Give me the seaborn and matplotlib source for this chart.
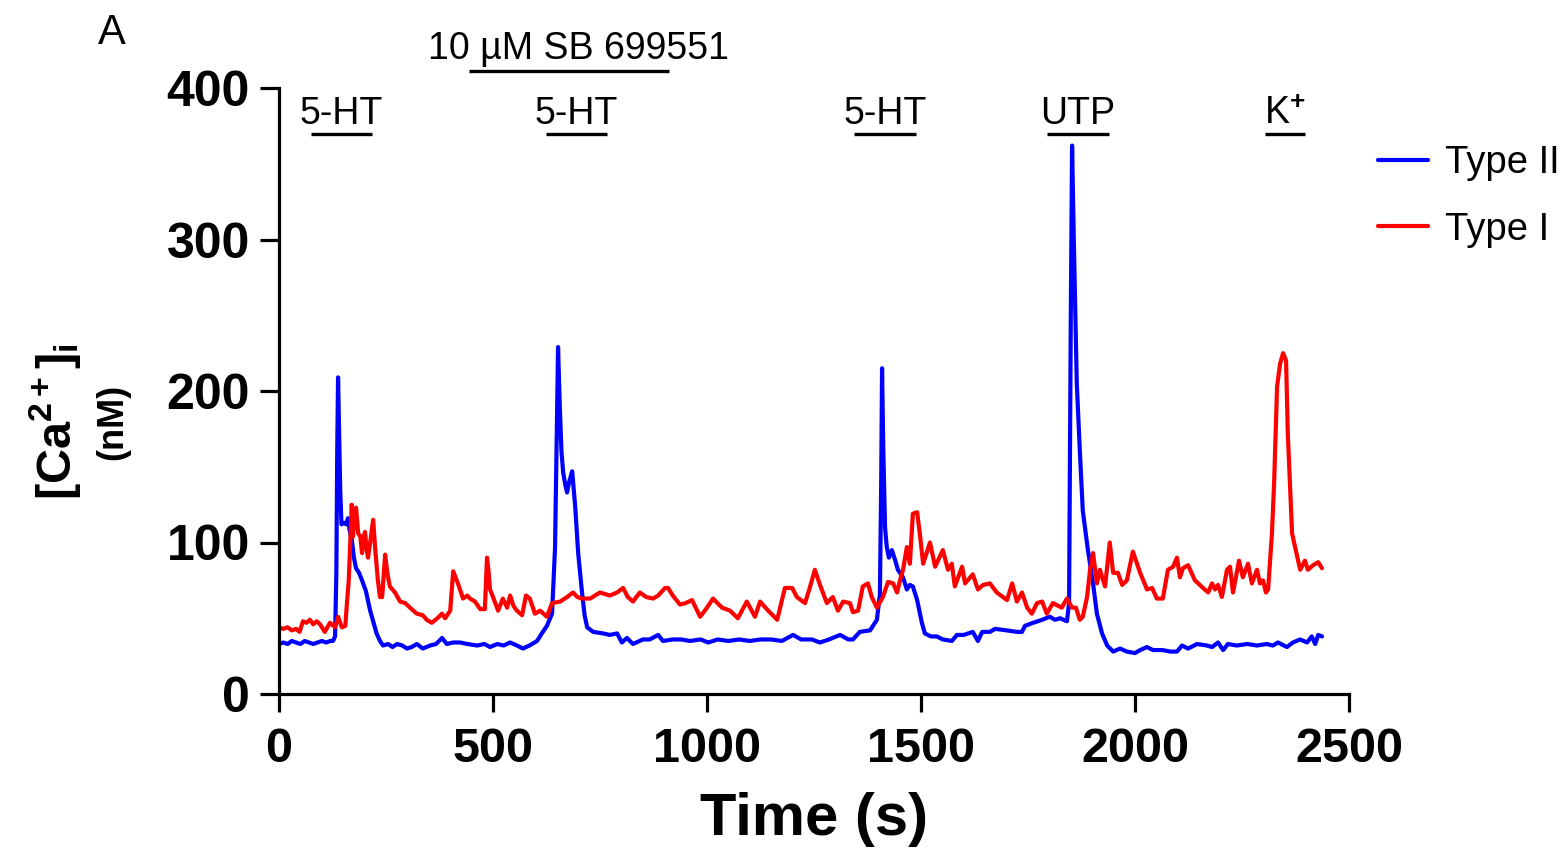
import numpy as np
import pandas as pd
import matplotlib
matplotlib.use("Agg")
import matplotlib.pyplot as plt
import matplotlib.transforms as mtransforms
import seaborn as sns

# ---------------- data ----------------
blue_t = [0, 10, 20, 30, 40, 50, 60, 70, 80, 90, 100, 110, 120, 126, 131, 134, 136, 138, 140, 143, 146, 152,
          157, 161, 165, 170, 175, 180, 187, 194, 203, 213, 222, 228, 236, 243, 255, 265, 276, 288, 299, 310,
          322, 336, 353, 367, 381, 392, 407, 423, 440, 463, 480, 493, 510, 525, 540, 556, 570, 585, 603, 614,
          626, 638, 645, 649, 652, 656, 660, 664, 669, 673, 678, 685, 692, 699, 708, 714, 720, 734, 757, 773,
          790, 801, 813, 827, 850, 866, 886, 897, 920, 940, 960, 985, 1003, 1025, 1050, 1075, 1100, 1125, 1150,
          1175, 1201, 1220, 1245, 1264, 1285, 1311, 1330, 1341, 1357, 1381, 1397, 1404, 1407, 1409, 1412, 1416,
          1420, 1425, 1432, 1440, 1446, 1458, 1467, 1474, 1481, 1491, 1502, 1509, 1523, 1537, 1551, 1572, 1584,
          1600, 1621, 1633, 1643, 1661, 1673, 1700, 1724, 1736, 1743, 1762, 1783, 1801, 1813, 1825, 1841, 1846,
          1850, 1853, 1857, 1864, 1871, 1878, 1890, 1902, 1911, 1923, 1935, 1949, 1965, 1981, 2000, 2012, 2028,
          2042, 2065, 2082, 2098, 2110, 2124, 2145, 2168, 2180, 2194, 2206, 2217, 2238, 2262, 2285, 2308, 2322,
          2334, 2355, 2369, 2386, 2402, 2413, 2421, 2428, 2437]
blue_v = [33, 34, 33, 35, 34, 33, 35, 34, 33, 34, 35, 34, 35, 35, 38, 80, 160, 209, 180, 135, 112, 113,
          112, 116, 108, 102, 90, 83, 80, 75, 68, 55, 46, 40, 35, 32, 33, 31, 33, 32, 30, 31,
          33, 30, 32, 33, 37, 33, 34, 34, 33, 32, 33, 31, 33, 32, 34, 32, 30, 32, 35, 40,
          45, 53, 97, 170, 229, 190, 160, 146, 138, 133, 140, 147, 124, 93, 67, 52, 44, 41, 40, 39,
          40, 34, 37, 33, 36, 36, 39, 35, 36, 36, 35, 36, 34, 36, 35, 36, 35, 36, 36,
          35, 39, 36, 36, 34, 36, 39, 36, 36, 41, 42, 49, 66, 140, 215, 160, 110,
          97, 90, 95, 88, 82, 77, 69, 72, 71, 62, 47, 40, 38, 38, 36, 35, 39,
          39, 41, 35, 41, 41, 43, 42, 41, 41, 45, 47, 49, 51, 49, 50, 48, 60,
          250, 362, 300, 205, 161, 121, 95, 73, 53, 40, 32, 28, 30, 28, 27, 29, 31,
          29, 29, 28, 28, 32, 30, 33, 32, 31, 34, 29, 33, 32, 33, 32, 33, 32,
          34, 31, 34, 36, 34, 38, 33, 39, 38]

red_t = [0, 10, 20, 30, 40, 48, 56, 64, 72, 80, 88, 96, 107, 119, 131, 138, 147, 155, 159, 163, 166, 170,
         173, 177, 180, 185, 190, 194, 198, 201, 205, 208, 213, 220, 225, 231, 236, 241, 245, 248, 253, 259,
         265, 271, 283, 295, 306, 322, 336, 345, 357, 370, 381, 388, 400, 407, 418, 430, 440, 446, 458, 470,
         481, 486, 490, 493, 500, 512, 523, 533, 540, 548, 556, 568, 577, 586, 598, 610, 626, 638, 657, 673,
         687, 697, 708, 727, 750, 773, 790, 804, 815, 827, 843, 858, 874, 886, 902, 909, 920, 937, 950, 965,
         984, 1000, 1014, 1035, 1054, 1072, 1093, 1112, 1124, 1143, 1164, 1182, 1199, 1210, 1229, 1240, 1252,
         1264, 1280, 1294, 1306, 1318, 1334, 1341, 1353, 1364, 1376, 1385, 1397, 1411, 1423, 1435, 1444, 1451,
         1458, 1467, 1474, 1481, 1491, 1498, 1505, 1521, 1533, 1551, 1563, 1572, 1579, 1596, 1603, 1621, 1633,
         1645, 1661, 1677, 1701, 1713, 1724, 1736, 1748, 1759, 1771, 1783, 1794, 1808, 1829, 1841, 1853, 1862,
         1871, 1878, 1888, 1895, 1902, 1911, 1918, 1930, 1941, 1949, 1960, 1970, 1981, 1995, 2012, 2028, 2040,
         2051, 2065, 2077, 2089, 2098, 2105, 2112, 2124, 2140, 2159, 2171, 2180, 2187, 2194, 2203, 2215, 2222,
         2229, 2243, 2252, 2264, 2273, 2285, 2292, 2299, 2306, 2311, 2320, 2325, 2332, 2339, 2346, 2353, 2357,
         2367, 2374, 2386, 2397, 2404, 2416, 2428, 2437]
red_v = [44, 43, 44, 42, 43, 41, 48, 47, 49, 46, 48, 46, 41, 47, 44, 51, 44, 45, 61, 75, 97, 125,
         104, 122, 123, 106, 104, 93, 104, 107, 95, 90, 100, 115, 95, 75, 64, 64, 80, 92, 80, 71,
         69, 67, 61, 60, 57, 53, 52, 49, 47, 50, 53, 50, 55, 81, 73, 63, 65, 63, 61, 56,
         56, 90, 80, 69, 64, 55, 63, 57, 65, 58, 55, 52, 65, 63, 53, 55, 51, 60, 61, 64,
         67, 64, 63, 63, 67, 65, 67, 70, 64, 61, 67, 64, 63, 65, 70, 70, 65, 59, 60, 62,
         51, 57, 63, 57, 55, 50, 61, 51, 61, 55, 49, 70, 70, 64, 60, 70, 82,
         72, 60, 64, 55, 61, 60, 54, 55, 71, 73, 64, 57, 64, 74, 73, 67, 75,
         82, 97, 86, 119, 120, 104, 86, 100, 84, 95, 82, 86, 71, 84, 73, 79, 69,
         72, 73, 67, 62, 73, 61, 67, 57, 53, 60, 61, 53, 60, 57, 63, 57, 57,
         49, 51, 64, 82, 93, 73, 82, 71, 100, 80, 80, 72, 75, 94, 80, 69, 70,
         63, 63, 82, 84, 90, 77, 83, 85, 75, 70, 67, 73, 69, 72, 64, 82, 84,
         67, 88, 77, 86, 73, 82, 73, 75, 67, 69, 106, 139, 203, 218, 225, 220, 172,
         106, 97, 82, 88, 82, 85, 87, 83]

series_names = ["Type II", "Type I"]
series_colors = ["#0000FF", "#FF0000"]

x_ticks = [0, 500, 1000, 1500, 2000, 2500]
y_ticks = [0, 100, 200, 300, 400]

stim_labels = ["5-HT", "5-HT", "5-HT", "UTP", "K$^{+}$"]
stim_start = [75, 624, 1343, 1794, 2304]
stim_end = [217, 766, 1488, 1939, 2397]
drug_label = "10 \u00b5M SB 699551"
drug_start, drug_end = 444, 911

# ---------------- style ----------------
sns.set_style("ticks")
plt.rcParams["font.family"] = ["Liberation Sans", "DejaVu Sans"]
plt.rcParams["text.color"] = "black"
plt.rcParams["axes.labelcolor"] = "black"
plt.rcParams["xtick.color"] = "black"
plt.rcParams["ytick.color"] = "black"
plt.rcParams["mathtext.fontset"] = "custom"
plt.rcParams["mathtext.rm"] = "Liberation Sans:bold"
plt.rcParams["mathtext.bf"] = "Liberation Sans:bold"
plt.rcParams["mathtext.it"] = "Liberation Sans:bold"

df = pd.concat([
    pd.DataFrame({"t": blue_t, "v": blue_v, "type": series_names[0]}),
    pd.DataFrame({"t": red_t, "v": red_v, "type": series_names[1]}),
], ignore_index=True)

fig = plt.figure(figsize=(15.65, 8.49), dpi=100)
ax = fig.add_axes([279 / 1565, 1 - 694 / 849, (1349 - 279) / 1565, (694 - 88) / 849])

sns.lineplot(data=df, x="t", y="v", hue="type", hue_order=series_names,
             palette=dict(zip(series_names, series_colors)), estimator=None, sort=False,
             linewidth=3.0, ax=ax)

ax.set_xlim(0, 2500)
ax.set_ylim(0, 400)
ax.set_xticks(x_ticks)
ax.set_yticks(y_ticks)
ax.set_xticklabels([str(v) for v in x_ticks], fontsize=35, fontweight="bold", color="black")
ax.set_yticklabels([str(v) for v in y_ticks], fontsize=36, fontweight="bold", color="black")
ax.tick_params(axis="x", length=13, width=2.3, pad=11, color="black")
ax.tick_params(axis="y", length=14, width=2.3, pad=7, color="black")
for s in ["left", "bottom"]:
    ax.spines[s].set_linewidth(2.3)
    ax.spines[s].set_color("black")
for s in ["top", "right"]:
    ax.spines[s].set_visible(False)

ax.set_xlabel("Time (s)", fontsize=43, fontweight="bold", labelpad=14, color="black")
ax.set_ylabel("")
fig.text(55 / 1565, 1 - 422 / 849, r"$\mathbf{[Ca^{2+}]_i}$", rotation=90, fontsize=35,
         ha="center", va="center", color="black")
fig.text(113 / 1565, 1 - 422 / 849, "(nM)", rotation=90, fontsize=26, fontweight="bold",
         ha="center", va="center", color="black")

# stimulus bars
trans = mtransforms.blended_transform_factory(ax.transData, ax.transAxes)
bar_y = (694 - 134) / 606
for lab, s, e in zip(stim_labels, stim_start, stim_end):
    ax.plot([s, e], [bar_y, bar_y], color="black", lw=2.4, transform=trans, clip_on=False,
            solid_capstyle="butt")
    ax.text((s + e) / 2, bar_y + 0.003, lab, transform=trans, ha="center", va="bottom",
            fontsize=27, color="black")
drug_y = (694 - 71) / 606
ax.plot([drug_start, drug_end], [drug_y, drug_y], color="black", lw=2.4, transform=trans,
        clip_on=False, solid_capstyle="butt")
ax.text((drug_start + drug_end) / 2 + 22, drug_y + 0.006, drug_label, transform=trans,
        ha="center", va="bottom", fontsize=27, color="black")

fig.text(112 / 1565, 1 - 33 / 849, "A", fontsize=30, ha="center", va="center", color="black")

sns.move_legend(ax, "upper left", bbox_to_anchor=(1378 / 1565, 1 - 145 / 849),
                bbox_transform=fig.transFigure, frameon=False, title=None,
                prop={"size": 27.5},
                handlelength=1.3, handletextpad=0.45, labelspacing=0.8,
                borderpad=0, borderaxespad=0)
for line in ax.get_legend().get_lines():
    line.set_linewidth(3.0)
for t in ax.get_legend().get_texts():
    t.set_color("black")

fig.savefig("out.png", dpi=100)
